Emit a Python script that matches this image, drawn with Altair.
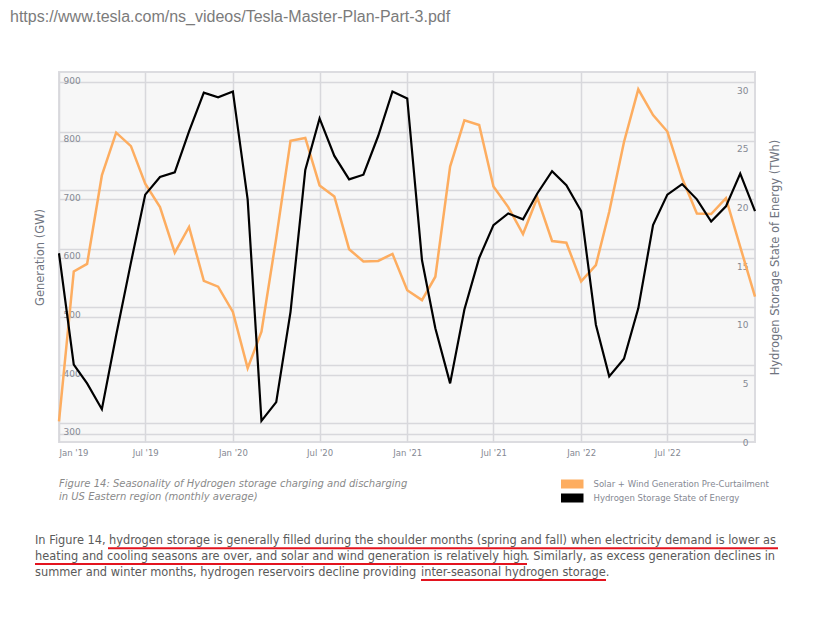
import altair as alt
import pandas as pd

# ---------------- data ----------------
months = pd.date_range("2019-01-01", periods=49, freq="MS").strftime("%Y-%m-%d").tolist()
generation_gw = [321, 577, 590, 741, 814, 791, 727, 687, 609, 653,
                 561, 551, 508, 412, 474, 634, 800, 805, 724, 705,
                 615, 594, 595, 607, 545, 528, 568, 756, 835, 827,
                 722, 687, 641, 703, 629, 626, 560, 588, 679, 798,
                 888, 844, 816, 736, 676, 675, 702, 619, 534]
storage_twh = [16.1, 6.6, 5.0, 2.8, 9.1, 15.3, 21.1, 22.6, 23.0, 26.5,
               29.8, 29.4, 29.9, 20.7, 1.8, 3.4, 11.1, 23.2, 27.6, 24.4,
               22.4, 22.8, 26.1, 29.9, 29.3, 15.5, 9.7, 5.0, 11.3, 15.7,
               18.5, 19.5, 19.0, 21.2, 23.1, 21.9, 19.7, 10.0, 5.6, 7.1,
               11.4, 18.5, 21.1, 22.0, 20.7, 18.8, 20.1, 22.9, 19.7]
x_tick_months = [(2019, 1), (2019, 7), (2020, 1), (2020, 7), (2021, 1),
                 (2021, 7), (2022, 1), (2022, 7)]
left_ticks = [300, 400, 500, 600, 700, 800, 900]
right_ticks = [0, 5, 10, 15, 20, 25, 30]
right_grid = [1.6, 6.6, 11.55, 16.5, 21.5, 26.45]
series_names = ["Solar + Wind Generation Pre-Curtailment", "Hydrogen Storage State of Energy"]
series_colors = ["#fdad60", "#000000"]

df = pd.DataFrame({"month": months, "gen": generation_gw, "storage": storage_twh})

FONT = "DejaVu Sans"
LBL = "#858993"
TTL = "#6f7480"
GRID = "#d8d8dc"

x_enc = alt.X(
    "month:T",
    scale=alt.Scale(domain=[alt.DateTime(year=2019, month=1, date=1),
                            alt.DateTime(year=2023, month=1, date=1)]),
    axis=alt.Axis(
        values=[alt.DateTime(year=y, month=m, date=1) for y, m in x_tick_months],
        format="%b '%y", title=None, ticks=False, domain=False,
        grid=True, gridColor=GRID, gridWidth=1.5,
        labelFont=FONT, labelFontSize=8.5, labelColor=LBL, labelPadding=6,
        labelFlush=True, labelFlushOffset=0,
    ),
)

color_scale = alt.Scale(domain=series_names, range=series_colors)
legend = alt.Legend(
    orient="none", legendX=502, legendY=405.3, title=None, padding=0,
    symbolType="M-3,0H3", symbolSize=81, symbolStrokeWidth=9,
    labelFont=FONT, labelFontSize=8.5, labelColor=LBL, labelOffset=14.5,
    labelLimit=400, rowPadding=0, clipHeight=13.5,
)
color_enc = alt.Color("series:N", scale=color_scale, legend=legend)

gen_line = alt.Chart().transform_calculate(
    series=f"'{series_names[0]}'"
).mark_line(strokeWidth=2.5).encode(
    x=x_enc,
    y=alt.Y("gen:Q",
            scale=alt.Scale(domain=[285.8, 917.6], nice=False, zero=False),
            axis=alt.Axis(orient="left", values=left_ticks, grid=True,
                          gridColor=GRID, gridWidth=1.5, ticks=False, domain=False,
                          labelAlign="left", labelPadding=-4, labelBaseline="middle",
                          labelOffset=-2, labelFont=FONT, labelFontSize=9,
                          labelColor=LBL,
                          title="Generation (GW)", titleX=-19, titleY=185,
                          titleAngle=270, titleAlign="center", titleBaseline="middle",
                          titleFont=FONT, titleFontSize=11.5, titleFontWeight="normal",
                          titleColor=TTL)),
    color=color_enc,
)

storage_scale = alt.Scale(domain=[0, 31.56], nice=False, zero=False)

storage_line = alt.Chart().transform_calculate(
    series=f"'{series_names[1]}'"
).mark_line(strokeWidth=2.2).encode(
    x=x_enc,
    y=alt.Y("storage:Q", scale=storage_scale,
            axis=alt.Axis(orient="right", values=right_ticks, grid=False,
                          ticks=False, domain=False, labelAlign="right",
                          labelPadding=-7, labelBaseline="middle",
                          labelFont=FONT, labelFontSize=9, labelColor=LBL,
                          title="Hydrogen Storage State of Energy (TWh)",
                          titleX=20, titleY=185, titleAngle=270,
                          titleAlign="center", titleBaseline="middle",
                          titleFont=FONT, titleFontSize=11.5,
                          titleFontWeight="normal", titleColor=TTL)),
    color=color_enc,
)

grid_layer = alt.Chart().mark_line(strokeOpacity=0).encode(
    x=x_enc,
    y=alt.Y("storage:Q", scale=storage_scale,
            axis=alt.Axis(orient="right", values=right_grid, grid=True,
                          gridColor=GRID, gridWidth=1.5, labels=False,
                          ticks=False, domain=False, title=None)),
)


def txt(s, x, y, size, color, font=FONT, style="normal"):
    return alt.Chart(alt.Data(values=[{}])).mark_text(
        text=s, align="left", baseline="middle", font=font, fontSize=size,
        fontStyle=style, color=color,
    ).encode(x=alt.value(x), y=alt.value(y))


def underline(x1, x2, y):
    return alt.Chart(alt.Data(values=[{}])).mark_rule(
        color="#e3141f", strokeWidth=2
    ).encode(x=alt.value(x1), x2=alt.value(x2), y=alt.value(y))


BODY = "#5a5a5a"
BS = 11.4
texts = [
    txt("https://www.tesla.com/ns_videos/Tesla-Master-Plan-Part-3.pdf", -49, -55, 16,
        "#7b7b7b", font="Liberation Sans"),
    txt("Figure 14: Seasonality of Hydrogen storage charging and discharging", 0, 412,
        10.0, "#8a8a8a", style="italic"),
    txt("in US Eastern region (monthly average)", 0, 425, 10.0, "#8a8a8a", style="italic"),
    txt("In Figure 14,", -24, 468.5, BS, BODY),
    txt("hydrogen storage is generally filled during the shoulder months (spring and fall) when electricity demand is lower as",
        50, 468.5, BS, BODY),
    txt("heating and cooling seasons are over, and solar and wind generation is relatively high",
        -24, 484.5, BS, BODY),
    txt(". Similarly, as excess generation declines in", 467, 484.5, BS, BODY),
    txt("summer and winter months, hydrogen reservoirs decline providing", -24, 500.5, BS, BODY),
    txt("inter-seasonal hydrogen storage.", 362, 500.5, BS, BODY),
    underline(49, 719, 476.3),
    underline(-24, 468, 492),
    underline(362, 547, 508),
]

chart = alt.layer(
    grid_layer, gen_line, storage_line, *texts, data=df
).resolve_scale(y="independent").properties(
    width=696, height=370,
    autosize=alt.AutoSizeParams(type="none"),
    padding={"left": 59, "top": 72, "right": 61, "bottom": 175},
).configure_view(fill="#f7f7f7", stroke="#dcdce0", strokeWidth=2)

chart.save("out.html", embed_options={"renderer": "svg", "actions": False})
